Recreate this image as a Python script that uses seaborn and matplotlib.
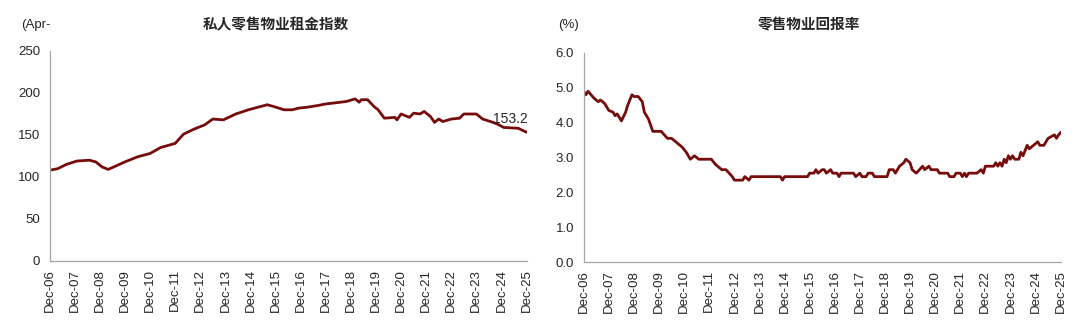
import matplotlib
matplotlib.use("Agg")
import matplotlib.pyplot as plt
import matplotlib.dates as mdates
import seaborn as sns
import pandas as pd

# ---- data (months since Dec-2006) ----
rent_month = [0, 4, 8, 13, 19, 22, 25, 28, 36, 42,
              48, 53, 60, 64, 69, 74, 78, 83, 89, 95,
              104, 107, 112, 116, 119, 123, 128, 132, 139, 142,
              146, 148, 149, 152, 155, 157, 160, 165, 166, 168,
              172, 174, 177, 179, 182, 184, 186, 188, 192, 196,
              198, 204, 207, 212, 214, 217, 224, 228]
rent_index = [108, 110, 115, 119, 120, 118, 112, 109, 118, 124,
              128, 135, 140, 151, 157, 162, 169, 168, 175, 180,
              186, 184, 180, 180, 182, 183, 185, 187, 189, 190,
              193, 189, 192, 192, 184, 180, 170, 171, 168, 175,
              171, 176, 175, 178, 172, 165, 169, 166, 169, 170,
              175, 175, 169, 165, 163, 159, 158, 153.2]

yield_month = [0, 1, 2, 5, 7, 8, 10, 12, 14, 15,
               16, 18, 20, 21, 23, 24, 26, 28, 29, 31,
               33, 37, 40, 42, 45, 47, 49, 51, 53, 55,
               61, 63, 66, 68, 71, 72, 76, 77, 79, 80,
               94, 95, 96, 107, 108, 110, 111, 112, 114, 115,
               116, 118, 119, 121, 122, 123, 129, 130, 132, 133,
               135, 136, 138, 139, 145, 146, 148, 149, 151, 153,
               154, 156, 157, 159, 162, 163, 165, 166, 169, 170,
               174, 175, 177, 178, 180, 181, 182, 183, 184, 188,
               190, 191, 192, 196, 197, 198, 199, 200, 201, 202,
               203, 204, 205, 206, 208, 209, 210, 212, 213, 215,
               217, 218, 220, 222, 225, 226, 227, 228]
yield_pct = [4.9, 4.8, 4.9, 4.7, 4.6, 4.65, 4.55, 4.35, 4.3, 4.2,
             4.25, 4.05, 4.3, 4.5, 4.8, 4.75, 4.75, 4.6, 4.3, 4.1,
             3.75, 3.75, 3.55, 3.55, 3.4, 3.3, 3.15, 2.95, 3.05, 2.95,
             2.95, 2.8, 2.65, 2.65, 2.45, 2.35, 2.35, 2.45, 2.35, 2.45,
             2.45, 2.35, 2.45, 2.45, 2.55, 2.55, 2.65, 2.55, 2.65, 2.65,
             2.55, 2.65, 2.55, 2.55, 2.45, 2.55, 2.55, 2.45, 2.55, 2.45,
             2.45, 2.55, 2.55, 2.45, 2.45, 2.65, 2.65, 2.55, 2.75, 2.85,
             2.95, 2.85, 2.65, 2.55, 2.75, 2.65, 2.75, 2.65, 2.65, 2.55,
             2.55, 2.45, 2.45, 2.55, 2.55, 2.45, 2.55, 2.45, 2.55, 2.55,
             2.65, 2.55, 2.75, 2.75, 2.85, 2.75, 2.85, 2.75, 2.95, 2.85,
             3.05, 2.95, 3.05, 2.95, 2.95, 3.15, 3.05, 3.35, 3.25, 3.35,
             3.45, 3.35, 3.35, 3.55, 3.65, 3.55, 3.65, 3.72]

tick_years = list(range(2006, 2026))
left_title = "私人零售物业租金指数"
right_title = "零售物业回报率"
left_unit = "(Apr-"
right_unit = "(%)"
last_label = "153.2"

# ---- style ----
sns.set_theme(style="white")
plt.rcParams["font.family"] = ["Liberation Sans", "Noto Sans CJK SC", "DejaVu Sans"]

LINE = "#760C0C"
AX = "#A6A6A6"
TXT = "#262626"

base = pd.Period("2006-12", "M")
def to_dates(months):
    return [(base + m).to_timestamp() for m in months]

rent_df = pd.DataFrame({"date": to_dates(rent_month), "value": rent_index})
yield_df = pd.DataFrame({"date": to_dates(yield_month), "value": yield_pct})
ticks = [pd.Timestamp(f"{y}-12-01") for y in tick_years]

fig = plt.figure(figsize=(10.8, 3.29), dpi=100)
ax1 = fig.add_axes([0.046, 0.2067, 0.4416, 0.6383])
ax2 = fig.add_axes([0.5405, 0.2036, 0.4416, 0.6354])

def style(ax):
    for s in ["top", "right"]:
        ax.spines[s].set_visible(False)
    for s in ["left", "bottom"]:
        ax.spines[s].set_color(AX)
        ax.spines[s].set_linewidth(0.9)
    ax.set_xticks(ticks)
    ax.xaxis.set_major_formatter(mdates.DateFormatter("%b-%y"))
    ax.tick_params(axis="x", rotation=90, direction="out", length=4, width=0.8,
                   color=AX, labelsize=9.5, labelcolor=TXT, pad=2)
    ax.tick_params(axis="y", length=0, labelsize=9.5, labelcolor=TXT, pad=7)
    ax.set_xlim(ticks[0], ticks[-1])
    ax.set_xlabel("")
    ax.set_ylabel("")
    ax.grid(False)

sns.lineplot(data=rent_df, x="date", y="value", ax=ax1, color=LINE, linewidth=2.0)
sns.lineplot(data=yield_df, x="date", y="value", ax=ax2, color=LINE, linewidth=2.0)
style(ax1)
style(ax2)

ax1.set_ylim(0, 250)
ax1.set_yticks(range(0, 251, 50))
ax2.set_ylim(0, 6)
ax2.set_yticks([i * 1.0 for i in range(7)])
ax2.yaxis.set_major_formatter(matplotlib.ticker.FormatStrFormatter("%.1f"))

ax1.annotate(last_label, xy=(rent_df["date"].iloc[-1], rent_df["value"].iloc[-1]),
             xytext=(-24, 7), textcoords="offset points", fontsize=10, color=TXT)

fig.text(0.255, 0.925, left_title, ha="center", va="center", fontsize=10.5,
         fontweight="bold", family=["Noto Sans CJK SC"], color=TXT)
fig.text(0.749, 0.925, right_title, ha="center", va="center", fontsize=10.5,
         fontweight="bold", family=["Noto Sans CJK SC"], color=TXT)
fig.text(0.02, 0.925, left_unit, ha="left", va="center", fontsize=9.5, color=TXT)
fig.text(0.517, 0.925, right_unit, ha="left", va="center", fontsize=9.5, color=TXT)

fig.savefig("out.png", dpi=100, facecolor="white")
